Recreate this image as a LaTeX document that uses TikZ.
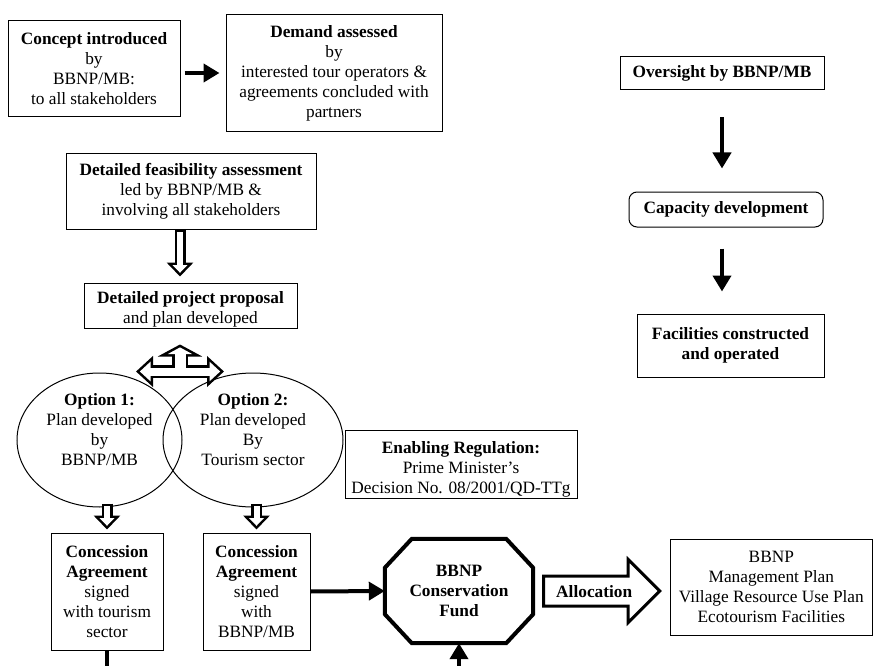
\documentclass[tikz,border=0pt]{standalone}
\usepackage{fontspec}
\setmainfont{Liberation Serif}
\usetikzlibrary{positioning,arrows.meta,shapes.geometric,shapes.arrows}
\newcommand{\boxfont}{\fontsize{17.3}{20}\selectfont}

\begin{document}
\begin{tikzpicture}[
			x=1pt, y=-1pt,
			plain_box/.style={draw, rectangle, line width=1pt, align=center, inner sep=0pt, font=\boxfont},
			oval_box/.style={draw, ellipse, line width=1pt, align=center, inner sep=0pt, font=\boxfont, text depth=22pt},
			fund_box/.style={rectangle, minimum width=148pt, minimum height=104pt, align=center, inner sep=0pt, font=\boxfont\bfseries},
			fund_border/.style={line width=4pt, line join=miter},
			alloc_arrow/.style={draw, single arrow, line width=3pt, single arrow head extend=16.5pt, minimum height=116pt, inner xsep=4pt, inner ysep=7.5pt, text height=12pt, text depth=0pt, font=\boxfont\bfseries},
			fat_arrow/.style={line width=4pt, -{Triangle[length=16pt, width=18pt]}},
			fat_line/.style={line width=4pt},
			hollow_out/.style={line width=11pt, shorten >=#1, -{Triangle[length=14pt, width=26pt]}},
			hollow_out/.default=0pt,
			hollow_in/.style={white, line width=6pt, shorten <=2.5pt, shorten >=#1+3.7pt, -{Triangle[length=7.8pt, width=14.5pt]}},
			hollow_in/.default=0pt,
			split_out_h/.style={line width=13pt, {Triangle[length=17pt, width=30pt]}-{Triangle[length=17pt, width=30pt]}},
			split_in_h/.style={white, line width=8pt, shorten <=3.8pt, shorten >=3.8pt, {Triangle[length=10.7pt, width=19pt]}-{Triangle[length=10.7pt, width=19pt]}},
			split_out_v/.style={line width=16pt, shorten >=#1, -{Triangle[length=12pt, width=44pt]}},
			split_in_v/.style={white, line width=11pt, shorten >=#1+2.9pt, -{Triangle[length=6.6pt, width=24pt]}}
			]
			\useasboundingbox (0,0) rectangle (873,666);
			
			% Top row
			\node[plain_box, minimum width=172pt, minimum height=96pt] (concept) at (94,69) {\textbf{Concept introduced}\\by\\BBNP/MB:\\to all stakeholders};
			\node[plain_box, minimum width=216pt, minimum height=117pt] (demand) at (334,73.5) {\textbf{Demand assessed}\\by\\interested tour operators \&\\agreements concluded with\\partners};
			
			% Right column
			\node[plain_box, minimum width=204pt, minimum height=33pt, font=\boxfont\bfseries] (oversight) at (722,73.5) {Oversight by BBNP/MB};
			\node[plain_box, rounded corners=8pt, minimum width=194pt, minimum height=35pt, font=\boxfont\bfseries] (capacity) at (726,209.5) {Capacity development};
			\node[plain_box, minimum width=187pt, minimum height=63pt, font=\boxfont\bfseries] (facilities) at (730.5,345.5) {Facilities constructed\\and operated};
			
			% Planning
			\node[plain_box, minimum width=250pt, minimum height=75pt] (feas) at (191,191.5) {\textbf{Detailed feasibility assessment}\\led by BBNP/MB \&\\involving all stakeholders};
			\node[plain_box, minimum width=213pt, minimum height=45pt, text height=40pt] (proposal) at (190.5,305.5) {\textbf{Detailed project proposal}\\and plan developed};
			
			% Options
			\node[oval_box, minimum width=165pt, minimum height=134pt] (opt1) at (99.5,440) {\textbf{Option 1:}\\Plan developed\\by\\BBNP/MB};
			\node[oval_box, minimum width=180pt, minimum height=134pt] (opt2) at (253,440) {\textbf{Option 2:}\\Plan developed\\By\\Tourism sector};
			\node[plain_box, minimum width=232pt, minimum height=68pt, text height=63pt] (enabling) at (461,464) {\textbf{Enabling Regulation:}\\Prime Minister’s\\Decision No. 08/2001/QD-TTg};
			
			% Agreements and fund
			\node[plain_box, minimum width=112pt, minimum height=117pt] (conc1) at (107,591.5) {\textbf{Concession}\\\textbf{Agreement}\\signed\\with tourism\\sector};
			\node[plain_box, minimum width=107pt, minimum height=117pt] (conc2) at (256.5,591.5) {\textbf{Concession}\\\textbf{Agreement}\\signed\\with\\BBNP/MB};
			\node[fund_box] (fund) at (459,591) {BBNP\\Conservation\\Fund};
			\draw[fund_border] ([xshift=27pt]fund.north west) -- ([xshift=-27pt]fund.north east) -- ([yshift=-29pt]fund.north east) -- ([yshift=29pt]fund.south east) -- ([xshift=-27pt]fund.south east) -- ([xshift=27pt]fund.south west) -- ([yshift=29pt]fund.south west) -- ([yshift=-29pt]fund.north west) -- cycle;
			\node[alloc_arrow, anchor=tail] (alloc) at ([xshift=9pt]fund.east) {Allocation};
			\node[plain_box, minimum width=202pt, minimum height=96pt, right=8pt of alloc, yshift=4pt] (outcome) {BBNP\\Management Plan\\Village Resource Use Plan\\Ecotourism Facilities};
			
			% Helper coordinates
			\coordinate (concept_out) at ([yshift=-4pt]concept.east);
			\coordinate (feas_out) at ([xshift=-11pt]feas.south);
			\coordinate (hub) at (180,371.5);
			\coordinate (opt1_out) at (conc1.north |- opt1.south);
			\coordinate (opt2_out) at (conc2.north |- opt2.south);
			\coordinate (bottom_edge) at (0,666);
			
			% Solid arrows
			\draw[fat_arrow, shorten <=4pt, shorten >=6pt] (concept_out) -- (concept_out -| demand.west);
			\draw[fat_arrow, shorten <=27pt, shorten >=23pt] (oversight.south) -- (oversight.south |- capacity.north);
			\draw[fat_arrow, shorten <=21pt, shorten >=22pt] (capacity.south -| oversight.south) -- (oversight.south |- facilities.north);
			\draw[fat_arrow] (conc2.east) -- (fund.west);
			\draw[fat_line] (conc1.south) -- (conc1.south |- bottom_edge);
			\draw[fat_arrow] (fund.south |- bottom_edge) -- (fund.south);
			
			% Hollow arrows
			\draw[hollow_out=6pt] (feas_out) -- (feas_out |- proposal.north);
			\draw[hollow_in=6pt] (feas_out) -- (feas_out |- proposal.north);
			\draw[hollow_out=3pt] ([yshift=4pt]opt1_out) -- (conc1.north);
			\draw[hollow_in=3pt] ([yshift=4pt]opt1_out) -- (conc1.north);
			\draw[hollow_out=3pt] ([yshift=4pt]opt2_out) -- (conc2.north);
			\draw[hollow_in=3pt] ([yshift=4pt]opt2_out) -- (conc2.north);
			
			% Split arrow between the options
			\draw[split_out_h] ([xshift=-44pt]hub) -- ([xshift=44pt]hub);
			\draw[split_out_v=16pt] (hub) -- (hub |- proposal.south);
			\draw[split_in_h] ([xshift=-44pt]hub) -- ([xshift=44pt]hub);
			\draw[split_in_v=16pt] (hub) -- (hub |- proposal.south);
			
		\end{tikzpicture}
\end{document}
